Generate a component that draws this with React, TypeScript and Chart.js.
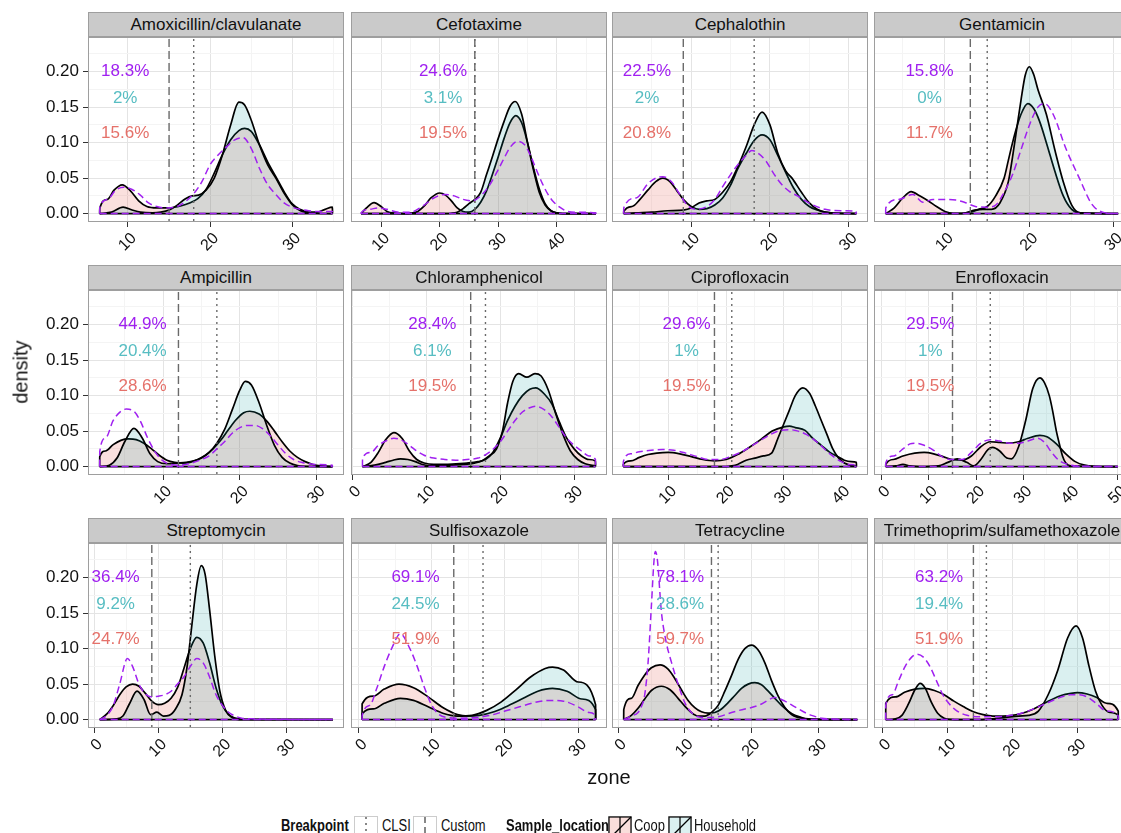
import React, { useEffect, useRef } from "react";
import { Chart, registerables } from "chart.js";

Chart.register(...registerables);

const FONT = '"Liberation Sans", Arial, Helvetica, sans-serif';

// ---------------- data ----------------
const panelTitles = [
  "Amoxicillin/clavulanate", "Cefotaxime", "Cephalothin", "Gentamicin",
  "Ampicillin", "Chloramphenicol", "Ciprofloxacin", "Enrofloxacin",
  "Streptomycin", "Sulfisoxazole", "Tetracycline", "Trimethoprim/sulfamethoxazole",
];
const xMin = [5.13, 4.86, -0.05, 1.6, 0.22, -0.2, 0.25, -1.63, -0.94, -1.05, -0.9, -1.3];
const xMax = [36.3, 48.57, 32.45, 31.9, 33.56, 34.45, 44.6, 52.6, 38.94, 33.95, 37.45, 38.1];
const xMajorBreaks = [
  [10, 20, 30], [10, 20, 30, 40], [10, 20, 30], [10, 20, 30],
  [10, 20, 30], [0, 10, 20, 30], [10, 20, 30, 40], [0, 10, 20, 30, 40, 50],
  [0, 10, 20, 30], [0, 10, 20, 30], [0, 10, 20, 30], [0, 10, 20, 30],
];
const yMin = -0.01185;
const yMax = 0.2489;
const yMajorBreaks = [0, 0.05, 0.1, 0.15, 0.2];
const yMinorBreaks = [0.025, 0.075, 0.125, 0.175, 0.225];

const customBreakpoint = [15, 26, 9, 13, 12, 16, 18, 15, 9, 13, 14, 14];
const clsiBreakpoint = [18, 26, 18, 15, 17, 18, 21, 23, 15, 17, 15, 16];

const labelX = [9.66, 20.57, 4.39, 8.17, 7.33, 10.81, 13.18, 10.3, 3.36, 7.77, 9.3, 8.72];
const labelY = [0.2, 0.1625, 0.1125];
const pctAll = ["18.3%", "24.6%", "22.5%", "15.8%", "44.9%", "28.4%", "29.6%", "29.5%", "36.4%", "69.1%", "78.1%", "63.2%"];
const pctHousehold = ["2%", "3.1%", "2%", "0%", "20.4%", "6.1%", "1%", "1%", "9.2%", "24.5%", "28.6%", "19.4%"];
const pctCoop = ["15.6%", "19.5%", "20.8%", "11.7%", "28.6%", "19.5%", "19.5%", "19.5%", "24.7%", "51.9%", "59.7%", "51.9%"];

// density curves: [zone, density]
const amoxCoop = [[6.55,0],[6.56,0.007],[7.5,0.02],[8.3,0.033],[9.3,0.0405],[10.3,0.032],[11.3,0.018],[12.3,0.01],[13.5,0.008],[15,0.008],[16.5,0.011],[17.5,0.015],[18.5,0.021],[19.5,0.034],[20.5,0.057],[21.5,0.083],[22.5,0.104],[23.5,0.117],[24.2,0.12],[25,0.116],[26,0.097],[27,0.073],[28,0.052],[29,0.031],[30,0.0136],[31,0.0056],[32,0.002],[33,0.002],[34,0.006],[34.89,0.009],[34.9,0]];
const amoxHousehold = [[6.55,0],[8,0.002],[9.4,0.009],[10.5,0.005],[11.5,0.002],[13,0.001],[14,0.002],[15,0.005],[16,0.012],[17,0.021],[17.8,0.025],[18.6,0.026],[19.5,0.033],[20.5,0.05],[21.5,0.083],[22.5,0.125],[23.5,0.157],[24.2,0.153],[25,0.132],[26,0.097],[27,0.069],[28,0.05],[29,0.029],[30,0.0126],[31,0.004],[32,0.0014],[33,0.0005],[34.9,0]];
const amoxOverall = [[6.55,0],[6.56,0.008],[7.5,0.02],[8.5,0.033],[9.5,0.037],[10.5,0.034],[11.5,0.026],[12.5,0.015],[13.5,0.01],[14.5,0.008],[16,0.01],[17,0.017],[18,0.028],[19,0.045],[20,0.069],[21,0.083],[22,0.094],[23,0.104],[24,0.107],[25,0.092],[26,0.064],[27,0.041],[28,0.027],[29,0.015],[30,0.009],[31,0.006],[32,0.004],[33,0.003],[34.89,0.003],[34.9,0]];

const cefoCoop = [[6.57,0],[7.5,0.008],[8.8,0.0154],[10,0.01],[11,0.003],[12.5,0.0005],[14,0],[16,0.002],[17.5,0.012],[18.5,0.022],[20,0.029],[21,0.026],[22,0.018],[23,0.008],[24,0.003],[25,0.002],[26,0.006],[27,0.016],[28,0.032],[29,0.055],[30,0.08],[31,0.106],[32,0.128],[33,0.138],[34,0.128],[35,0.1],[36,0.065],[37,0.035],[38,0.014],[39,0.004],[40,0.001],[41,0],[46.7,0]];
const cefoHousehold = [[6.57,0],[20,0],[22,0.0005],[23,0.002],[24,0.007],[25,0.014],[26,0.02],[27,0.03],[28,0.055],[29,0.08],[30,0.106],[31,0.13],[32,0.151],[32.9,0.158],[34,0.14],[35,0.1],[36,0.062],[37,0.03],[38,0.012],[39,0.004],[40,0.001],[41,0],[46.7,0]];
const cefoOverall = [[6.57,0],[6.58,0.001],[8,0.006],[9.5,0.008],[11,0.006],[13,0.002],[15,0.002],[17,0.01],[19,0.022],[21,0.027],[22.5,0.025],[24,0.02],[25.5,0.018],[27,0.025],[28.5,0.04],[30,0.062],[31,0.078],[32,0.093],[33.3,0.102],[34.5,0.097],[35.5,0.082],[36.5,0.062],[37.5,0.043],[38.5,0.027],[39.5,0.016],[40.5,0.009],[41.5,0.004],[43,0.002],[46.7,0.001],[46.71,0]];

const cephCoop = [[1.43,0],[1.44,0.003],[2.5,0.01],[3.5,0.02],[4.5,0.033],[5.5,0.045],[6.4,0.05],[7.3,0.045],[8.2,0.032],[9,0.02],[10,0.01],[11,0.006],[12,0.007],[13,0.012],[14,0.022],[15,0.04],[16,0.065],[17,0.085],[18,0.103],[19,0.111],[20,0.104],[21,0.082],[22,0.058],[23,0.036],[24,0.02],[25,0.01],[26,0.005],[27,0.002],[28,0.0008],[30.97,0]];
const cephHousehold = [[1.43,0],[3,0.001],[5,0.002],[7,0.004],[9,0.005],[10,0.008],[11,0.015],[12,0.018],[13,0.02],[14,0.03],[15,0.045],[16,0.068],[17,0.095],[18,0.125],[19,0.143],[20,0.125],[21,0.085],[22,0.06],[22.8,0.05],[24,0.03],[25,0.015],[26,0.006],[27,0.002],[28,0.001],[30.97,0]];
const cephOverall = [[1.43,0],[1.44,0.008],[3,0.022],[4.5,0.042],[5.5,0.05],[6.4,0.052],[7.5,0.045],[8.5,0.028],[9.5,0.012],[10.5,0.006],[12,0.01],[13,0.02],[14,0.038],[15,0.055],[16,0.07],[17,0.082],[17.7,0.089],[18.5,0.085],[19.5,0.074],[20.5,0.056],[21.5,0.041],[22.5,0.031],[23.5,0.025],[24.5,0.018],[25.5,0.012],[27,0.006],[29,0.004],[30.96,0.003],[30.97,0]];

const gentCoop = [[2.98,0],[4,0.008],[5,0.022],[6,0.031],[7,0.025],[8,0.018],[9,0.01],[10,0.003],[11,0.0005],[12,0.0005],[13,0.002],[14,0.006],[15,0.01],[16,0.025],[17,0.05],[17.5,0.075],[18,0.1],[18.5,0.122],[19,0.14],[19.8,0.155],[20.5,0.148],[21.2,0.13],[22,0.1],[23,0.06],[24,0.025],[25,0.006],[26,0.001],[30.5,0]];
const gentHousehold = [[2.98,0],[12,0],[12.5,0.001],[13.5,0.005],[14.5,0.006],[15.5,0.006],[16.5,0.015],[17.5,0.045],[18,0.08],[18.5,0.12],[19,0.16],[19.5,0.195],[20,0.207],[20.5,0.196],[21,0.175],[22,0.14],[23,0.09],[24,0.045],[25,0.012],[26,0.001],[30.5,0]];
const gentOverall = [[2.98,0],[2.99,0.008],[4.5,0.02],[6.2,0.027],[7.4,0.016],[8.6,0.02],[10,0.02],[11.3,0.019],[12.3,0.016],[13.6,0.01],[15,0.009],[16,0.012],[17,0.03],[18,0.055],[19,0.09],[20,0.125],[21,0.15],[21.8,0.155],[22.8,0.14],[24.3,0.092],[25.9,0.05],[27.4,0.013],[29,0.001],[30.5,0]];

const ampCoop = [[1.74,0],[1.75,0.014],[2.5,0.022],[3.5,0.031],[4.5,0.037],[5.5,0.039],[6.5,0.038],[7.5,0.033],[8.5,0.025],[9.5,0.016],[10.5,0.009],[11.5,0.006],[12.5,0.005],[13.5,0.006],[14.5,0.01],[15.5,0.016],[16.5,0.025],[17.5,0.037],[18.5,0.052],[19.5,0.066],[20.5,0.076],[21.3,0.078],[22.5,0.074],[23.5,0.064],[24.5,0.05],[25.5,0.035],[26.5,0.022],[27.5,0.013],[28.5,0.007],[29.5,0.003],[30.5,0.001],[32.06,0]];
const ampHousehold = [[1.74,0],[3,0.002],[4,0.012],[5,0.035],[6.2,0.054],[7.3,0.04],[8.3,0.018],[9.3,0.007],[10.5,0.004],[12,0.005],[13,0.006],[14,0.008],[15,0.012],[16,0.02],[17,0.033],[18,0.052],[19,0.08],[20,0.108],[20.7,0.12],[21.5,0.115],[22.5,0.09],[23.5,0.058],[24.5,0.03],[25.5,0.013],[26.5,0.005],[27.5,0.0015],[28.5,0.0005],[32.06,0]];
const ampOverall = [[1.74,0],[1.75,0.021],[2.5,0.04],[3.5,0.065],[4.5,0.078],[5.2,0.081],[6.2,0.078],[7,0.065],[8,0.04],[9,0.02],[10,0.008],[11,0.003],[12,0.002],[13,0.003],[14,0.006],[15,0.01],[16,0.015],[17,0.025],[18,0.035],[19,0.047],[20,0.055],[21,0.058],[22,0.058],[23,0.053],[24,0.043],[25,0.03],[26,0.018],[27,0.01],[28,0.006],[29,0.004],[30,0.003],[32.05,0.002],[32.06,0]];

const chlCoop = [[1.35,0],[2.5,0.006],[3.5,0.02],[4.5,0.038],[5.6,0.048],[6.7,0.04],[7.7,0.022],[8.7,0.01],[9.7,0.005],[11,0.003],[12.5,0.003],[14,0.004],[15.5,0.005],[17,0.007],[18,0.01],[19,0.02],[20,0.04],[21,0.065],[22,0.085],[23,0.1],[24,0.109],[24.8,0.111],[26,0.102],[27,0.088],[28,0.063],[29,0.04],[30,0.025],[31,0.015],[32,0.01],[32.89,0.008],[32.9,0]];
const chlHousehold = [[1.35,0],[3,0.002],[4.5,0.006],[5.5,0.009],[6.5,0.011],[7.5,0.01],[8.5,0.007],[9.5,0.003],[10.5,0.001],[12,0.001],[13.5,0.002],[15,0.003],[16.5,0.005],[17.5,0.008],[18.5,0.015],[19.5,0.025],[20.3,0.05],[21,0.09],[21.7,0.12],[22.5,0.131],[23.6,0.126],[24.7,0.131],[25.5,0.128],[26.5,0.108],[27.5,0.075],[28.5,0.045],[29.5,0.022],[30.5,0.01],[31.5,0.004],[32.9,0.001]];
const chlOverall = [[1.35,0],[1.36,0.012],[2.5,0.02],[3.5,0.03],[4.5,0.036],[5.6,0.04],[6.7,0.037],[7.7,0.03],[8.7,0.022],[9.7,0.016],[11,0.012],[12.5,0.01],[14,0.009],[15.5,0.01],[17,0.012],[18.5,0.02],[20,0.035],[21,0.05],[22,0.065],[23,0.077],[24,0.083],[24.8,0.085],[26,0.08],[27,0.07],[28,0.055],[29,0.04],[30,0.03],[31,0.022],[32,0.015],[32.89,0.01],[32.9,0]];

const ciproCoop = [[2.2,0],[2.21,0.003],[3.5,0.008],[5,0.013],[6.5,0.017],[8,0.019],[10,0.02],[12,0.018],[14,0.014],[16,0.01],[18,0.008],[20,0.01],[22,0.017],[24,0.027],[26,0.038],[28,0.05],[30,0.056],[31,0.057],[32,0.055],[33.7,0.051],[35,0.04],[36.5,0.03],[38,0.02],[39.4,0.014],[40.5,0.009],[41.7,0.007],[42.59,0.006],[42.6,0]];
const ciproHousehold = [[2.2,0],[20,0],[21,0.001],[22,0.003],[23.5,0.009],[25,0.012],[26.5,0.015],[27.9,0.019],[29,0.04],[30,0.06],[31,0.08],[32,0.1],[33.3,0.111],[34.5,0.103],[35.5,0.085],[36.5,0.065],[37.5,0.045],[38.5,0.025],[39.5,0.012],[40.5,0.005],[41.5,0.002],[42.6,0]];
const ciproOverall = [[2.2,0],[2.21,0.007],[3.5,0.018],[5,0.021],[7,0.023],[9,0.024],[11,0.023],[13,0.019],[15,0.014],[17,0.01],[19,0.01],[21,0.015],[23,0.022],[25,0.032],[27,0.042],[29,0.05],[31,0.052],[32.5,0.05],[34,0.045],[36,0.033],[38,0.018],[40,0.007],[41.5,0.003],[42.59,0.002],[42.6,0]];

const enroCoop = [[0.85,0],[0.86,0.003],[2.5,0.01],[4.5,0.015],[7,0.019],[9,0.02],[11,0.018],[13,0.014],[15,0.01],[17,0.009],[19,0.015],[21,0.028],[23,0.035],[25,0.034],[27,0.033],[29,0.035],[31,0.04],[33.5,0.044],[35,0.042],[37,0.032],[39,0.018],[41,0.007],[43,0.002],[45,0.0005],[50,0]];
const enroHousehold = [[0.85,0],[3,0.001],[4.5,0.003],[6,0.001],[8,0],[12,0.001],[14,0.006],[16,0.011],[18,0.006],[19.5,0.001],[21,0.01],[22.5,0.024],[23.5,0.027],[25,0.022],[26.5,0.012],[27.5,0.011],[29,0.028],[30.5,0.065],[32,0.11],[33.5,0.125],[34.5,0.118],[35.5,0.1],[36.2,0.079],[37,0.05],[37.6,0.033],[38.3,0.015],[39,0.005],[40,0.001],[50,0]];
const enroOverall = [[0.85,0],[0.86,0.005],[2.5,0.015],[4.5,0.025],[6,0.032],[7,0.033],[9,0.03],[11,0.023],[13,0.013],[15,0.01],[17,0.01],[19,0.02],[21,0.033],[23,0.038],[25,0.036],[27,0.033],[29,0.033],[31,0.036],[33,0.04],[34.5,0.034],[36,0.02],[37.5,0.009],[39,0.004],[41,0.001],[50,0]];

const strepCoop = [[0.88,0],[2,0.008],[3,0.02],[4,0.035],[5,0.046],[6,0.05],[7,0.047],[8,0.037],[9,0.026],[10,0.021],[11,0.023],[12,0.03],[13,0.045],[14,0.072],[15,0.1],[16,0.116],[17,0.108],[18,0.08],[19,0.045],[20,0.02],[21,0.007],[22,0.002],[23,0.0005],[37.2,0]];
const strepHousehold = [[0.88,0],[3.5,0.001],[4.5,0.005],[5.5,0.022],[6.7,0.04],[7.8,0.028],[8.8,0.007],[9.8,0.0104],[10.8,0.005],[11.7,0.006],[12.7,0.015],[13.7,0.035],[14.5,0.075],[15.2,0.13],[16,0.19],[16.7,0.217],[17.3,0.205],[18,0.155],[18.8,0.09],[19.6,0.04],[20.5,0.013],[21.5,0.003],[23,0],[37.2,0]];
const strepOverall = [[0.88,0],[2,0.006],[3,0.02],[4,0.05],[5.2,0.086],[6,0.075],[7,0.05],[8,0.036],[9,0.032],[10,0.033],[11,0.035],[12,0.04],[13,0.05],[14,0.06],[15,0.075],[16,0.086],[17,0.08],[18,0.06],[19,0.035],[20,0.02],[21,0.01],[22,0.005],[23,0.002],[25,0.001],[37.2,0]];

const sulfCoop = [[0.46,0],[0.47,0.022],[2,0.033],[3.5,0.043],[5.5,0.05],[7.5,0.045],[9.5,0.032],[11.5,0.017],[13.5,0.007],[15,0.005],[16.5,0.006],[18.5,0.011],[20.5,0.02],[22.5,0.03],[24.5,0.04],[26.5,0.044],[28.5,0.04],[30.5,0.029],[32.39,0.014],[32.4,0]];
const sulfHousehold = [[0.46,0],[0.47,0.008],[2,0.015],[3.5,0.023],[5.7,0.03],[7.5,0.027],[9.5,0.018],[11.5,0.009],[13.5,0.005],[15.5,0.006],[17.5,0.013],[19.5,0.025],[21.5,0.042],[23.5,0.06],[25.5,0.072],[26.5,0.074],[28,0.07],[30,0.053],[32.39,0.021],[32.4,0]];
const sulfOverall = [[0.46,0],[0.47,0.005],[1.5,0.02],[2.5,0.045],[3.5,0.075],[4.5,0.1],[5.7,0.121],[7,0.1],[8,0.075],[9,0.045],[10,0.02],[11,0.007],[12,0.003],[14,0.002],[16,0.003],[18,0.006],[20,0.012],[22,0.018],[24,0.024],[26,0.027],[28,0.026],[30,0.018],[31.5,0.01],[32.39,0.005],[32.4,0]];

const tetCoop = [[0.85,0],[0.86,0.014],[2,0.03],[3,0.048],[4,0.063],[5,0.073],[6.3,0.077],[7.5,0.071],[8.5,0.058],[9.5,0.042],[10.5,0.027],[11.5,0.017],[12.5,0.011],[13.5,0.009],[14.5,0.01],[15.5,0.015],[16.5,0.024],[17.5,0.034],[18.5,0.044],[19.5,0.05],[20.5,0.052],[21.5,0.049],[22.5,0.04],[23.5,0.03],[24.5,0.02],[25.5,0.012],[26.5,0.006],[27.5,0.003],[28.5,0.001],[30,0.0003],[35.85,0]];
const tetHousehold = [[0.85,0],[2,0.006],[3,0.016],[4,0.029],[5,0.041],[6.5,0.047],[7.8,0.042],[9,0.03],[10,0.019],[11,0.01],[12,0.005],[13,0.005],[14,0.01],[15,0.02],[16,0.04],[17,0.062],[18,0.085],[19,0.1],[20,0.105],[21,0.098],[22,0.08],[23,0.055],[24,0.033],[25,0.017],[26,0.007],[27,0.003],[28,0.001],[29.5,0.0002],[35.85,0]];
const tetOverall = [[0.85,0],[2,0.005],[3,0.01],[3.5,0.018],[4,0.035],[4.5,0.08],[5,0.16],[5.4,0.225],[5.6,0.237],[5.9,0.225],[6.5,0.152],[7.2,0.11],[8,0.081],[9,0.05],[10,0.024],[11,0.01],[12,0.004],[13,0.003],[15,0.004],[17,0.01],[19,0.015],[20,0.017],[21.5,0.022],[23.5,0.031],[25,0.026],[26.5,0.018],[28,0.01],[29,0.006],[30.5,0.002],[32,0.001],[35.85,0]];

const triCoop = [[0.5,0],[0.51,0.023],[2,0.032],[3.5,0.039],[5,0.043],[6.5,0.044],[8,0.041],[9.5,0.035],[11,0.026],[12.5,0.018],[14,0.011],[15.5,0.007],[17,0.005],[18.5,0.005],[20,0.006],[21.5,0.009],[23,0.014],[24.5,0.021],[26,0.028],[27.5,0.034],[29,0.037],[30,0.038],[31.5,0.036],[33,0.031],[34.5,0.023],[36.29,0.012],[36.3,0]];
const triHousehold = [[0.5,0],[2,0.001],[3,0.006],[4,0.022],[5,0.042],[5.8,0.051],[6.6,0.044],[7.5,0.025],[8.5,0.009],[9.5,0.002],[10.5,0.0003],[12,0],[15,0],[17,0.001],[19,0.003],[21,0.005],[22.5,0.006],[24,0.012],[25.5,0.035],[27,0.07],[28.5,0.115],[29.8,0.132],[30.8,0.115],[31.8,0.075],[32.8,0.04],[33.8,0.02],[35,0.01],[36.29,0.006],[36.3,0]];
const triOverall = [[0.5,0],[0.51,0.02],[1.5,0.035],[2.5,0.055],[3.5,0.075],[4.5,0.088],[5.3,0.092],[6.3,0.088],[7.3,0.075],[8.3,0.055],[9.3,0.035],[10.3,0.022],[11.5,0.012],[13,0.006],[15,0.004],[17,0.004],[19,0.005],[21,0.008],[23,0.014],[25,0.022],[27,0.03],[29,0.035],[30,0.035],[31.5,0.032],[33,0.022],[34.5,0.012],[36.29,0.005],[36.3,0]];

const coopCurves = [amoxCoop, cefoCoop, cephCoop, gentCoop, ampCoop, chlCoop, ciproCoop, enroCoop, strepCoop, sulfCoop, tetCoop, triCoop];
const householdCurves = [amoxHousehold, cefoHousehold, cephHousehold, gentHousehold, ampHousehold, chlHousehold, ciproHousehold, enroHousehold, strepHousehold, sulfHousehold, tetHousehold, triHousehold];
const overallCurves = [amoxOverall, cefoOverall, cephOverall, gentOverall, ampOverall, chlOverall, ciproOverall, enroOverall, strepOverall, sulfOverall, tetOverall, triOverall];

const legendBreakpointLabels = ["CLSI", "Custom"];
const legendLocationLabels = ["Coop", "Household"];

// ---------------- style / layout ----------------
const COL_LEFT = [88, 351, 612, 874];
const ROW_TOP = [37, 290, 543];
const PLOT_W = 256;
const PLOT_H = 185;
const STRIP_H = 25;
const RIGHT_M = 20;
const BOTTOM_M = 45;

const PURPLE = "#A020F0";
const TEAL_TEXT = "#57BDC2";
const RED_TEXT = "#E5716A";
const COOP_FILL = "rgba(232,102,92,0.2)";
const HH_FILL = "rgba(8,155,155,0.15)";
const GRID_MAJOR = "#E4E4E4";
const GRID_MINOR = "#F4F4F4";
const BORDER = "#9E9E9E";
const VLINE = "#6A6A6A";
const TICK_COLOR = "#333333";
const TEXT_COLOR = "#111111";

const near = (a: number, b: number) => Math.abs(a - b) < 1e-9;
const toXY = (arr: number[][]) => arr.map(([x, y]) => ({ x, y }));

function xTicksFor(i: number): number[] {
  const s = new Set<number>();
  xMajorBreaks[i].forEach((m) => {
    s.add(m);
    [m - 5, m + 5].forEach((v) => {
      if (v > xMin[i] && v < xMax[i]) s.add(v);
    });
  });
  return Array.from(s).sort((a, b) => a - b);
}

const decorPlugin = {
  id: "panelDecor",
  afterDatasetsDraw(chart: any, _args: any, opts: any) {
    const i = opts.index;
    const { ctx, scales } = chart;
    ctx.save();
    ctx.font = `17px ${FONT}`;
    ctx.textAlign = "center";
    ctx.textBaseline = "middle";
    const x = scales.x.getPixelForValue(labelX[i]);
    const texts = [pctAll[i], pctHousehold[i], pctCoop[i]];
    const colors = [PURPLE, TEAL_TEXT, RED_TEXT];
    texts.forEach((t, k) => {
      ctx.fillStyle = colors[k];
      ctx.fillText(t, x, scales.y.getPixelForValue(labelY[k]));
    });
    ctx.restore();
  },
  afterDraw(chart: any) {
    const { ctx, chartArea } = chart;
    ctx.save();
    ctx.strokeStyle = BORDER;
    ctx.lineWidth = 1;
    ctx.strokeRect(chartArea.left + 0.5, chartArea.top + 0.5, chartArea.right - chartArea.left - 1, chartArea.bottom - chartArea.top - 1);
    ctx.restore();
  },
};

function Panel({ index }: { index: number }) {
  const ref = useRef<HTMLCanvasElement>(null);
  const col = index % 4;
  const row = Math.floor(index / 4);
  const leftM = col === 0 ? COL_LEFT[0] : 30;
  const w = leftM + PLOT_W + RIGHT_M;
  const h = PLOT_H + BOTTOM_M;

  useEffect(() => {
    const canvas = ref.current!;
    const coop = coopCurves[index];
    const hh = householdCurves[index];
    const all = overallCurves[index];
    const start = coop[0][0];
    const end = coop[coop.length - 1][0];
    const majorsX = xMajorBreaks[index];
    const xTicks = xTicksFor(index);
    const yTicks = [...yMajorBreaks, ...yMinorBreaks].sort((a, b) => a - b);
    const isMajorY = (v: number) => yMajorBreaks.some((m) => near(m, v));
    const isMajorX = (v: number) => majorsX.some((m) => near(m, v));

    const curve = { pointRadius: 0, pointHoverRadius: 0, cubicInterpolationMode: "monotone" };
    const chart = new Chart(canvas, {
      type: "line",
      data: {
        datasets: [
          { ...curve, data: toXY(coop), borderColor: "#000", borderWidth: 1.7, backgroundColor: COOP_FILL, fill: "origin", order: 10 },
          { ...curve, data: toXY(hh), borderColor: "#000", borderWidth: 1.7, backgroundColor: HH_FILL, fill: "origin", order: 9 },
          { pointRadius: 0, tension: 0, fill: false, data: [{ x: clsiBreakpoint[index], y: -1 }, { x: clsiBreakpoint[index], y: 1 }], borderColor: VLINE, borderWidth: 1.4, borderDash: [2, 4], order: 8 },
          { pointRadius: 0, tension: 0, fill: false, data: [{ x: customBreakpoint[index], y: -1 }, { x: customBreakpoint[index], y: 1 }], borderColor: VLINE, borderWidth: 1.4, borderDash: [8, 4], order: 7 },
          { pointRadius: 0, tension: 0, fill: false, data: [{ x: start, y: 0 }, { x: end, y: 0 }], borderColor: "#000", borderWidth: 1.7, order: 6 },
          { ...curve, fill: false, data: toXY(all), borderColor: PURPLE, borderWidth: 1.5, borderDash: [7, 4], order: 2 },
          { pointRadius: 0, tension: 0, fill: false, data: [{ x: all[0][0], y: 0 }, { x: all[all.length - 1][0], y: 0 }], borderColor: PURPLE, borderWidth: 1.5, borderDash: [7, 4], order: 1 },
        ] as any,
      },
      options: {
        animation: false,
        responsive: false,
        devicePixelRatio: 1,
        events: [],
        layout: { padding: { left: 0, top: 0, right: RIGHT_M, bottom: 0 } },
        plugins: {
          legend: { display: false },
          tooltip: { enabled: false },
          title: { display: false },
          panelDecor: { index },
        } as any,
        scales: {
          x: {
            type: "linear",
            min: xMin[index],
            max: xMax[index],
            afterBuildTicks: (s: any) => {
              s.ticks = xTicks.map((v) => ({ value: v }));
            },
            afterFit: (s: any) => {
              s.height = BOTTOM_M;
              s.paddingLeft = 0;
              s.paddingRight = 0;
            },
            ticks: {
              autoSkip: false,
              minRotation: 45,
              maxRotation: 45,
              padding: 2,
              labelOffset: 6,
              color: TEXT_COLOR,
              font: { family: FONT, size: 16 },
              callback: (v: any) => (isMajorX(Number(v)) ? String(Math.round(Number(v))) : ""),
            },
            grid: {
              color: (c: any) => (c.tick && isMajorX(c.tick.value) ? GRID_MAJOR : GRID_MINOR),
              lineWidth: 1,
              drawTicks: true,
              tickLength: 5,
              tickWidth: 1,
              tickColor: (c: any) => (c.tick && isMajorX(c.tick.value) ? TICK_COLOR : "rgba(0,0,0,0)"),
            },
            border: { display: false },
          },
          y: {
            type: "linear",
            min: yMin,
            max: yMax,
            afterBuildTicks: (s: any) => {
              s.ticks = yTicks.map((v) => ({ value: v }));
            },
            afterFit: (s: any) => {
              s.width = leftM;
              s.paddingTop = 0;
              s.paddingBottom = 0;
            },
            ticks: {
              display: col === 0,
              autoSkip: false,
              padding: 4,
              color: TEXT_COLOR,
              font: { family: FONT, size: 17 },
              callback: (v: any) => (isMajorY(Number(v)) ? Math.abs(Number(v)).toFixed(2) : ""),
            },
            grid: {
              color: (c: any) => (c.tick && isMajorY(c.tick.value) ? GRID_MAJOR : GRID_MINOR),
              lineWidth: 1,
              drawTicks: col === 0,
              tickLength: 5,
              tickWidth: 1,
              tickColor: (c: any) => (c.tick && isMajorY(c.tick.value) ? TICK_COLOR : "rgba(0,0,0,0)"),
            },
            border: { display: false },
          },
        },
      } as any,
      plugins: [decorPlugin as any],
    });
    return () => chart.destroy();
  }, [index]);

  return (
    <canvas
      ref={ref}
      width={w}
      height={h}
      style={{ position: "absolute", left: COL_LEFT[col] - leftM, top: ROW_TOP[row], width: w, height: h }}
    />
  );
}

function Strip({ index }: { index: number }) {
  const col = index % 4;
  const row = Math.floor(index / 4);
  return (
    <div
      style={{
        position: "absolute",
        left: COL_LEFT[col],
        top: ROW_TOP[row] - STRIP_H,
        width: PLOT_W,
        height: STRIP_H,
        boxSizing: "border-box",
        background: "#CACACA",
        border: `1px solid ${BORDER}`,
        display: "flex",
        alignItems: "center",
        justifyContent: "center",
        fontFamily: FONT,
        fontSize: 17,
        color: TEXT_COLOR,
        whiteSpace: "nowrap",
      }}
    >
      <span>{panelTitles[index]}</span>
    </div>
  );
}

function Key({ kind }: { kind: "dotted" | "dashed" | "coop" | "household" }) {
  const fill = kind === "coop" ? "#F9DEDB" : kind === "household" ? "#DBF0F0" : "#FFFFFF";
  return (
    <svg width={24} height={24} style={{ display: "block" }}>
      <rect x={0.5} y={0.5} width={23} height={23} fill={fill} stroke="#CCCCCC" strokeWidth={1} />
      {kind === "dotted" && <line x1={12} y1={1} x2={12} y2={23} stroke="#555" strokeWidth={1.4} strokeDasharray="2 4" />}
      {kind === "dashed" && <line x1={12} y1={1} x2={12} y2={23} stroke="#555" strokeWidth={1.4} strokeDasharray="6 4" />}
      {(kind === "coop" || kind === "household") && (
        <>
          <rect x={1} y={1} width={22} height={22} fill="none" stroke="#000" strokeWidth={1.2} />
          <line x1={12} y1={1} x2={12} y2={23} stroke="#000" strokeWidth={1.2} />
          <line x1={1} y1={23} x2={23} y2={1} stroke="#000" strokeWidth={1.2} />
        </>
      )}
    </svg>
  );
}

function LegendText({ left, bold, children }: { left: number; bold?: boolean; children: React.ReactNode }) {
  return (
    <div
      style={{
        position: "absolute",
        left,
        top: 815,
        lineHeight: "22px",
        fontFamily: FONT,
        fontSize: 16,
        fontWeight: bold ? "bold" : "normal",
        color: TEXT_COLOR,
        whiteSpace: "nowrap",
        transform: "scaleX(0.81)",
        transformOrigin: "left center",
      }}
    >
      {children}
    </div>
  );
}

function Legend() {
  const key = (left: number): React.CSSProperties => ({ position: "absolute", left, top: 816 });
  return (
    <>
      <LegendText left={281} bold>Breakpoint</LegendText>
      <div style={key(354)}><Key kind="dotted" /></div>
      <LegendText left={382}>{legendBreakpointLabels[0]}</LegendText>
      <div style={key(413)}><Key kind="dashed" /></div>
      <LegendText left={441}>{legendBreakpointLabels[1]}</LegendText>
      <LegendText left={506} bold>Sample_location</LegendText>
      <div style={key(608)}><Key kind="coop" /></div>
      <LegendText left={634}>{legendLocationLabels[0]}</LegendText>
      <div style={key(668)}><Key kind="household" /></div>
      <LegendText left={694}>{legendLocationLabels[1]}</LegendText>
    </>
  );
}

export default function App() {
  const idx = Array.from({ length: 12 }, (_, i) => i);
  return (
    <div style={{ position: "fixed", left: 0, top: 0, width: 1121, height: 833, overflow: "hidden", background: "#FFFFFF" }}>
      {idx.map((i) => (
        <Panel key={`p${i}`} index={i} />
      ))}
      {idx.map((i) => (
        <Strip key={`s${i}`} index={i} />
      ))}
      <div
        style={{
          position: "absolute",
          left: 21,
          top: 372,
          transform: "translate(-50%, -50%) rotate(-90deg)",
          fontFamily: FONT,
          fontSize: 20,
          color: TEXT_COLOR,
          whiteSpace: "nowrap",
        }}
      >
        density
      </div>
      <div
        style={{
          position: "absolute",
          left: 609,
          top: 777,
          transform: "translate(-50%, -50%)",
          fontFamily: FONT,
          fontSize: 20,
          color: TEXT_COLOR,
          whiteSpace: "nowrap",
        }}
      >
        zone
      </div>
      <Legend />
    </div>
  );
}
